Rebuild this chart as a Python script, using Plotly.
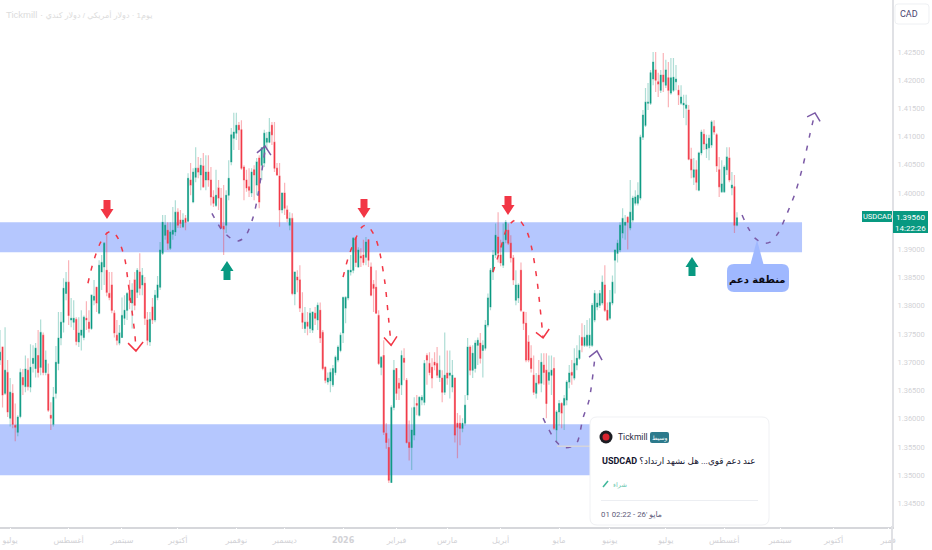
import plotly.graph_objects as go

W = 932
H = 550

open_prices = [
    1.3704, 1.3727, 1.3645, 1.3682, 1.3601, 1.3645, 1.3588, 1.3576, 1.3604, 1.3673, 1.3657, 1.3686, 1.3656, 1.3698, 1.3689, 1.3712, 1.3691, 1.3748, 1.3682, 1.3679,
    1.3606, 1.3590, 1.3645, 1.3698, 1.3743, 1.3771, 1.3822, 1.3842, 1.3775, 1.3771, 1.3776, 1.3736, 1.3748, 1.3744, 1.3778, 1.3771, 1.3760, 1.3810, 1.3833, 1.3787,
    1.3860, 1.3869, 1.3863, 1.3822, 1.3837, 1.3787, 1.3748, 1.3734, 1.3744, 1.3778, 1.3792, 1.3828, 1.3805, 1.3846, 1.3824, 1.3860, 1.3837, 1.3840, 1.3775, 1.3736,
    1.3798, 1.3775, 1.3815, 1.3833, 1.3893, 1.3925, 1.3934, 1.3902, 1.3927, 1.3931, 1.3966, 1.3952, 1.3940, 1.3955, 1.3950, 1.4023, 1.3984, 1.4028, 1.4044, 1.4032,
    1.4048, 1.4023, 1.4037, 1.4023, 1.3993, 1.3978, 1.4009, 1.3991, 1.3941, 1.3943, 1.3996, 1.4055, 1.4097, 1.4106, 1.4120, 1.4112, 1.4046, 1.4023, 1.4011, 1.4000,
    1.4041, 1.4014, 1.4062, 1.4049, 1.4053, 1.4090, 1.4090, 1.4120, 1.4090, 1.4044, 1.4030, 1.3970, 1.4000, 1.3970, 1.3943, 1.3955, 1.3821, 1.3851, 1.3846, 1.3787,
    1.3760, 1.3771, 1.3760, 1.3757, 1.3787, 1.3775, 1.3792, 1.3753, 1.3691, 1.3665, 1.3667, 1.3660, 1.3682, 1.3704, 1.3721, 1.3752, 1.3796, 1.3814, 1.3860, 1.3863,
    1.3920, 1.3869, 1.3888, 1.3890, 1.3886, 1.3917, 1.3869, 1.3838, 1.3833, 1.3783, 1.3691, 1.3712, 1.3574, 1.3549, 1.3487, 1.3620, 1.3689, 1.3663, 1.3660, 1.3707,
    1.3668, 1.3558, 1.3549, 1.3571, 1.3627, 1.3606, 1.3633, 1.3629, 1.3712, 1.3698, 1.3691, 1.3700, 1.3698, 1.3673, 1.3672, 1.3647, 1.3681, 1.3677, 1.3656, 1.3672,
    1.3592, 1.3592, 1.3583, 1.3592, 1.3642, 1.3727, 1.3686, 1.3689, 1.3730, 1.3734, 1.3721, 1.3725, 1.3766, 1.3798, 1.3860, 1.3890, 1.3922, 1.3890, 1.3872, 1.3917,
    1.3934, 1.3911, 1.3885, 1.3810, 1.3814, 1.3863, 1.3789, 1.3769, 1.3736, 1.3707, 1.3677, 1.3645, 1.3677, 1.3663, 1.3695, 1.3686, 1.3668, 1.3677, 1.3689, 1.3580,
    1.3612, 1.3627, 1.3624, 1.3633, 1.3665, 1.3682, 1.3672, 1.3695, 1.3707, 1.3744, 1.3730, 1.3730, 1.3730, 1.3730, 1.3775, 1.3798, 1.3801, 1.3805, 1.3837, 1.3792,
    1.3778, 1.3805, 1.3881, 1.3893, 1.3899, 1.3929, 1.3943, 1.3957, 1.3938, 1.3952, 1.3982, 1.3982, 1.3991, 1.4099, 1.4120, 1.4159, 1.4159, 1.4202, 1.4218, 1.4197,
    1.4182, 1.4209, 1.4191, 1.4204, 1.4177, 1.4182, 1.4197, 1.4182, 1.4159, 1.4156, 1.4150, 1.4147, 1.4060, 1.4028, 1.4041, 1.4005, 1.4071, 1.4104, 1.4078, 1.4080,
    1.4085, 1.4118, 1.4103, 1.4041, 1.4002, 1.4002, 1.4041, 1.4062, 1.4009, 1.4011, 1.3943,
]
high_prices = [
    1.3757, 1.3727, 1.3762, 1.3704, 1.3672, 1.3661, 1.3627, 1.3606, 1.3689, 1.3688, 1.3712, 1.3707, 1.3732, 1.3730, 1.3734, 1.3757, 1.3776, 1.3753, 1.3721, 1.3698,
    1.3629, 1.3656, 1.3729, 1.3789, 1.3789, 1.3849, 1.3860, 1.3881, 1.3814, 1.3810, 1.3780, 1.3780, 1.3792, 1.3783, 1.3808, 1.3792, 1.3819, 1.3846, 1.3833, 1.3881,
    1.3890, 1.3913, 1.3931, 1.3860, 1.3860, 1.3792, 1.3775, 1.3766, 1.3815, 1.3819, 1.3824, 1.3846, 1.3840, 1.3860, 1.3867, 1.3893, 1.3867, 1.3851, 1.3789, 1.3789,
    1.3814, 1.3828, 1.3853, 1.3913, 1.3961, 1.3961, 1.3948, 1.3948, 1.3975, 1.3987, 1.3973, 1.3970, 1.3964, 1.3961, 1.4035, 1.4053, 1.4044, 1.4081, 1.4064, 1.4062,
    1.4071, 1.4067, 1.4067, 1.4046, 1.4005, 1.4041, 1.4023, 1.4009, 1.4014, 1.4005, 1.4058, 1.4115, 1.4142, 1.4142, 1.4126, 1.4129, 1.4049, 1.4041, 1.4044, 1.4044,
    1.4049, 1.4062, 1.4067, 1.4081, 1.4112, 1.4108, 1.4133, 1.4126, 1.4126, 1.4053, 1.4053, 1.4000, 1.4018, 1.3978, 1.3966, 1.3964, 1.3860, 1.3863, 1.3872, 1.3824,
    1.3798, 1.3789, 1.3796, 1.3789, 1.3798, 1.3806, 1.3806, 1.3757, 1.3693, 1.3682, 1.3689, 1.3695, 1.3712, 1.3730, 1.3753, 1.3815, 1.3817, 1.3863, 1.3890, 1.3922,
    1.3922, 1.3904, 1.3902, 1.3917, 1.3922, 1.3917, 1.3877, 1.3846, 1.3863, 1.3792, 1.3711, 1.3739, 1.3592, 1.3565, 1.3624, 1.3704, 1.3689, 1.3672, 1.3721, 1.3725,
    1.3672, 1.3597, 1.3620, 1.3638, 1.3642, 1.3640, 1.3642, 1.3704, 1.3716, 1.3718, 1.3707, 1.3718, 1.3727, 1.3712, 1.3686, 1.3753, 1.3721, 1.3721, 1.3704, 1.3672,
    1.3610, 1.3606, 1.3601, 1.3642, 1.3743, 1.3730, 1.3730, 1.3739, 1.3744, 1.3752, 1.3739, 1.3775, 1.3822, 1.3867, 1.3899, 1.3946, 1.3966, 1.3917, 1.3946, 1.3952,
    1.3946, 1.3925, 1.3890, 1.3863, 1.3840, 1.3877, 1.3789, 1.3789, 1.3748, 1.3730, 1.3712, 1.3681, 1.3704, 1.3716, 1.3716, 1.3716, 1.3712, 1.3712, 1.3709, 1.3615,
    1.3633, 1.3629, 1.3642, 1.3668, 1.3695, 1.3704, 1.3725, 1.3730, 1.3748, 1.3769, 1.3766, 1.3775, 1.3778, 1.3805, 1.3828, 1.3822, 1.3828, 1.3854, 1.3872, 1.3806,
    1.3828, 1.3854, 1.3899, 1.3917, 1.3948, 1.3973, 1.3961, 1.3959, 1.4023, 1.3995, 1.4005, 1.4019, 1.4103, 1.4147, 1.4186, 1.4195, 1.4218, 1.4250, 1.4250, 1.4213,
    1.4218, 1.4248, 1.4236, 1.4232, 1.4239, 1.4239, 1.4227, 1.4191, 1.4191, 1.4174, 1.4174, 1.4156, 1.4080, 1.4062, 1.4058, 1.4073, 1.4112, 1.4113, 1.4103, 1.4103,
    1.4129, 1.4129, 1.4106, 1.4064, 1.4058, 1.4049, 1.4081, 1.4081, 1.4037, 1.4032, 1.3966,
]
low_prices = [
    1.3695, 1.3620, 1.3642, 1.3603, 1.3586, 1.3583, 1.3560, 1.3569, 1.3601, 1.3642, 1.3647, 1.3650, 1.3647, 1.3682, 1.3673, 1.3673, 1.3677, 1.3677, 1.3677, 1.3612,
    1.3580, 1.3586, 1.3636, 1.3686, 1.3730, 1.3753, 1.3810, 1.3766, 1.3762, 1.3757, 1.3730, 1.3727, 1.3721, 1.3739, 1.3757, 1.3753, 1.3757, 1.3801, 1.3789, 1.3785,
    1.3828, 1.3837, 1.3817, 1.3810, 1.3787, 1.3744, 1.3730, 1.3730, 1.3743, 1.3766, 1.3775, 1.3794, 1.3760, 1.3792, 1.3814, 1.3819, 1.3819, 1.3766, 1.3730, 1.3729,
    1.3768, 1.3771, 1.3810, 1.3828, 1.3890, 1.3917, 1.3899, 1.3899, 1.3917, 1.3924, 1.3938, 1.3938, 1.3938, 1.3934, 1.3948, 1.3996, 1.3982, 1.4019, 1.4026, 1.4005,
    1.4009, 1.4005, 1.4011, 1.3978, 1.3975, 1.3975, 1.3970, 1.3938, 1.3890, 1.3929, 1.3987, 1.4049, 1.4076, 1.4094, 1.4076, 1.4041, 1.3987, 1.4002, 1.3993, 1.3993,
    1.3987, 1.3996, 1.3973, 1.4023, 1.4046, 1.4076, 1.4088, 1.4085, 1.4037, 1.4030, 1.3940, 1.3964, 1.3961, 1.3948, 1.3934, 1.3819, 1.3801, 1.3824, 1.3789, 1.3759,
    1.3752, 1.3748, 1.3752, 1.3752, 1.3766, 1.3757, 1.3734, 1.3686, 1.3663, 1.3660, 1.3647, 1.3656, 1.3677, 1.3700, 1.3718, 1.3734, 1.3769, 1.3810, 1.3854, 1.3858,
    1.3869, 1.3867, 1.3869, 1.3872, 1.3872, 1.3869, 1.3817, 1.3789, 1.3787, 1.3695, 1.3677, 1.3571, 1.3547, 1.3486, 1.3486, 1.3615, 1.3633, 1.3633, 1.3642, 1.3668,
    1.3556, 1.3526, 1.3509, 1.3562, 1.3606, 1.3604, 1.3624, 1.3624, 1.3660, 1.3677, 1.3654, 1.3686, 1.3672, 1.3665, 1.3629, 1.3642, 1.3660, 1.3636, 1.3647, 1.3558,
    1.3530, 1.3553, 1.3576, 1.3588, 1.3633, 1.3677, 1.3672, 1.3682, 1.3695, 1.3698, 1.3673, 1.3721, 1.3762, 1.3792, 1.3846, 1.3885, 1.3877, 1.3870, 1.3867, 1.3911,
    1.3908, 1.3877, 1.3837, 1.3801, 1.3805, 1.3789, 1.3757, 1.3700, 1.3700, 1.3682, 1.3642, 1.3636, 1.3660, 1.3647, 1.3660, 1.3601, 1.3660, 1.3642, 1.3580, 1.3557,
    1.3588, 1.3583, 1.3580, 1.3624, 1.3654, 1.3660, 1.3668, 1.3686, 1.3704, 1.3718, 1.3727, 1.3727, 1.3725, 1.3727, 1.3771, 1.3792, 1.3796, 1.3801, 1.3789, 1.3773,
    1.3775, 1.3801, 1.3822, 1.3877, 1.3895, 1.3920, 1.3917, 1.3900, 1.3934, 1.3948, 1.3978, 1.3978, 1.3987, 1.4094, 1.4117, 1.4147, 1.4156, 1.4191, 1.4179, 1.4170,
    1.4177, 1.4179, 1.4186, 1.4152, 1.4174, 1.4179, 1.4182, 1.4156, 1.4156, 1.4133, 1.4120, 1.4058, 1.4026, 1.4014, 1.4005, 1.4003, 1.4067, 1.4076, 1.4062, 1.4058,
    1.4080, 1.4103, 1.4037, 1.3993, 1.4000, 1.4000, 1.4032, 1.4019, 1.3996, 1.3929, 1.3941,
]
close_prices = [
    1.3718, 1.3642, 1.3686, 1.3612, 1.3647, 1.3590, 1.3585, 1.3603, 1.3682, 1.3660, 1.3688, 1.3657, 1.3691, 1.3707, 1.3725, 1.3682, 1.3753, 1.3682, 1.3704, 1.3615,
    1.3601, 1.3638, 1.3700, 1.3743, 1.3771, 1.3831, 1.3842, 1.3783, 1.3778, 1.3778, 1.3737, 1.3752, 1.3757, 1.3780, 1.3775, 1.3760, 1.3819, 1.3817, 1.3805, 1.3872,
    1.3877, 1.3911, 1.3824, 1.3815, 1.3792, 1.3752, 1.3739, 1.3752, 1.3783, 1.3792, 1.3822, 1.3810, 1.3828, 1.3801, 1.3863, 1.3831, 1.3854, 1.3778, 1.3739, 1.3776,
    1.3775, 1.3819, 1.3837, 1.3899, 1.3948, 1.3943, 1.3911, 1.3931, 1.3934, 1.3966, 1.3943, 1.3946, 1.3952, 1.3948, 1.4026, 1.4014, 1.4037, 1.4044, 1.4037, 1.4049,
    1.4011, 1.4037, 1.4023, 1.3993, 1.3982, 1.3996, 1.3991, 1.3938, 1.3936, 1.3996, 1.4026, 1.4103, 1.4108, 1.4120, 1.4112, 1.4044, 1.4023, 1.4009, 1.4005, 1.4037,
    1.4032, 1.4055, 1.3984, 1.4080, 1.4106, 1.4097, 1.4108, 1.4103, 1.4044, 1.4032, 1.3970, 1.4000, 1.3973, 1.3955, 1.3955, 1.3822, 1.3860, 1.3846, 1.3796, 1.3771,
    1.3771, 1.3764, 1.3787, 1.3789, 1.3778, 1.3801, 1.3743, 1.3689, 1.3668, 1.3672, 1.3682, 1.3689, 1.3709, 1.3727, 1.3748, 1.3815, 1.3815, 1.3863, 1.3863, 1.3920,
    1.3877, 1.3899, 1.3885, 1.3877, 1.3913, 1.3881, 1.3819, 1.3831, 1.3787, 1.3698, 1.3709, 1.3576, 1.3558, 1.3491, 1.3620, 1.3686, 1.3645, 1.3654, 1.3712, 1.3700,
    1.3558, 1.3549, 1.3580, 1.3620, 1.3624, 1.3638, 1.3638, 1.3698, 1.3704, 1.3682, 1.3672, 1.3695, 1.3677, 1.3686, 1.3647, 1.3677, 1.3672, 1.3681, 1.3677, 1.3571,
    1.3585, 1.3583, 1.3592, 1.3624, 1.3727, 1.3686, 1.3716, 1.3734, 1.3739, 1.3707, 1.3730, 1.3766, 1.3814, 1.3863, 1.3890, 1.3925, 1.3893, 1.3876, 1.3913, 1.3948,
    1.3911, 1.3885, 1.3846, 1.3837, 1.3837, 1.3792, 1.3769, 1.3704, 1.3704, 1.3689, 1.3647, 1.3663, 1.3663, 1.3700, 1.3682, 1.3627, 1.3682, 1.3686, 1.3583, 1.3612,
    1.3627, 1.3610, 1.3636, 1.3665, 1.3681, 1.3677, 1.3698, 1.3707, 1.3721, 1.3730, 1.3744, 1.3748, 1.3748, 1.3801, 1.3822, 1.3805, 1.3822, 1.3842, 1.3792, 1.3775,
    1.3806, 1.3842, 1.3899, 1.3911, 1.3943, 1.3955, 1.3948, 1.3948, 1.3966, 1.3991, 1.3993, 1.3996, 1.4099, 1.4138, 1.4161, 1.4161, 1.4213, 1.4232, 1.4200, 1.4193,
    1.4209, 1.4197, 1.4218, 1.4182, 1.4204, 1.4205, 1.4202, 1.4174, 1.4170, 1.4159, 1.4156, 1.4060, 1.4041, 1.4041, 1.4019, 1.4071, 1.4108, 1.4087, 1.4087, 1.4097,
    1.4126, 1.4108, 1.4048, 1.4011, 1.4016, 1.4046, 1.4064, 1.4023, 1.4014, 1.3943, 1.3956,
]
bars = list(range(len(close_prices)))

# 1.395 sits under the price tag so it is left out
price_ticks = [1.425, 1.42, 1.415, 1.41, 1.405, 1.40, 1.39, 1.385, 1.38, 1.375, 1.37, 1.365, 1.36, 1.355, 1.35, 1.345]
month_ticks = [4, 27, 48, 70, 93, 112, 135, 156, 176, 197, 220, 240, 262, 285, 307, 328, 349.5]
month_labels = ["يوليو", "أغسطس", "سبتمبر", "أكتوبر", "نوفمبر", "ديسمبر", "<b>2026</b>", "فبراير", "مارس", "أبريل",
                "مايو", "يونيو", "يوليو", "أغسطس", "سبتمبر", "أكتوبر", "فمبر"]

# support zones: top price, bottom price, last bar
upper_zone = [1.3948, 1.3895, 315.6]
lower_zone = [1.3590, 1.3500, 302.0]

# hand drawn paths on the chart (bar index, price)
red1_x = [34.6, 36.6, 39.4, 42.1, 44.1, 46.4, 49.2, 50.4, 51.9, 53.1, 53.5]
red1_y = [1.3840, 1.3876, 1.3911, 1.3929, 1.3932, 1.3920, 1.3881, 1.3842, 1.3792, 1.3748, 1.3720]
red1_head_x = [50.4, 53.5, 56.3]
red1_head_y = [1.3734, 1.3720, 1.3736]
red2_x = [135.0, 137.0, 139.7, 142.5, 144.4, 147.6, 149.5, 151.5, 152.7, 153.9]
red2_y = [1.3851, 1.3885, 1.3917, 1.3940, 1.3943, 1.3922, 1.3893, 1.3840, 1.3787, 1.3730]
red2_head_x = [151.1, 153.9, 156.2]
red2_head_y = [1.3744, 1.3730, 1.3746]
red3_x = [194.0, 196.8, 199.5, 201.9, 203.9, 207.4, 209.4, 211.3, 212.5, 213.7]
red3_y = [1.3860, 1.3899, 1.3938, 1.3950, 1.3954, 1.3931, 1.3899, 1.3846, 1.3798, 1.3743]
red3_head_x = [210.9, 213.7, 216.1]
red3_head_y = [1.3753, 1.3743, 1.3759]
purple1_x = [83.4, 87.4, 91.7, 93.7, 96.4, 99.6, 101.5, 104.3]
purple1_y = [1.3964, 1.3934, 1.3917, 1.3915, 1.3922, 1.3957, 1.3996, 1.4076]
purple1_head_x = [101.1, 104.3, 106.6]
purple1_head_y = [1.4071, 1.4083, 1.4067]
purple2_x = [213.7, 218.4, 221.6, 225.1, 227.1, 229.4, 231.8, 234.2]
purple2_y = [1.3601, 1.3562, 1.3549, 1.3551, 1.3558, 1.3601, 1.3633, 1.3713]
purple2_head_x = [231.8, 234.9, 236.9]
purple2_head_y = [1.3709, 1.3720, 1.3704]
purple3_x = [292.0, 294.4, 297.1, 300.3, 303.0, 306.2, 308.9, 312.9, 316.0, 318.8, 320.7]
purple3_y = [1.3961, 1.3938, 1.3920, 1.3911, 1.3913, 1.3929, 1.3955, 1.4000, 1.4049, 1.4106, 1.4142]
purple3_head_x = [317.6, 320.7, 322.7]
purple3_head_y = [1.4135, 1.4142, 1.4127]

TEAL = "#089981"
RED = "#F23645"
PURPLE = "#7B5AA6"
ZONE = "#B5C7FE"
LATIN = "Roboto, DejaVu Sans"


def px(x, y):
    return x / W, 1 - y / H


def poly(points):
    parts = []
    for i, (x, y) in enumerate(points):
        a, b = px(x, y)
        parts.append(f"{'M' if i == 0 else 'L'}{a:.5f},{b:.5f}")
    return " ".join(parts) + " Z"


def down_arrow(cx, top, tip, color):
    neck = tip - 10
    return dict(type="path", xref="paper", yref="paper", layer="above", fillcolor=color, line=dict(width=0),
                path=poly([(cx - 3.5, top), (cx + 3.5, top), (cx + 3.5, neck), (cx + 6.5, neck), (cx, tip), (cx - 6.5, neck), (cx - 3.5, neck)]))


def up_arrow(cx, tip, bottom, color):
    neck = tip + 10
    return dict(type="path", xref="paper", yref="paper", layer="above", fillcolor=color, line=dict(width=0),
                path=poly([(cx, tip), (cx + 6.5, neck), (cx + 3.5, neck), (cx + 3.5, bottom), (cx - 3.5, bottom), (cx - 3.5, neck), (cx - 6.5, neck)]))


def rounded(x0, y0, x1, y1, r, fill, line=None):
    a0, b0 = px(x0, y0)
    a1, b1 = px(x1, y1)
    rx, ry = r / W, r / H
    path = (f"M{a0 + rx:.5f},{b0:.5f} L{a1 - rx:.5f},{b0:.5f} Q{a1:.5f},{b0:.5f} {a1:.5f},{b0 - ry:.5f} "
            f"L{a1:.5f},{b1 + ry:.5f} Q{a1:.5f},{b1:.5f} {a1 - rx:.5f},{b1:.5f} "
            f"L{a0 + rx:.5f},{b1:.5f} Q{a0:.5f},{b1:.5f} {a0:.5f},{b1 + ry:.5f} "
            f"L{a0:.5f},{b0 - ry:.5f} Q{a0:.5f},{b0:.5f} {a0 + rx:.5f},{b0:.5f} Z")
    return dict(type="path", xref="paper", yref="paper", layer="above", path=path, fillcolor=fill,
                line=dict(width=1 if line else 0, color=line or fill))


def rect(x0, y0, x1, y1, fill):
    a0, b0 = px(x0, y0)
    a1, b1 = px(x1, y1)
    return dict(type="rect", xref="paper", yref="paper", layer="above", x0=a0, x1=a1, y0=b0, y1=b1,
                fillcolor=fill, line=dict(width=0))


def circle(cx, cy, rad, fill):
    a0, b0 = px(cx - rad, cy + rad)
    a1, b1 = px(cx + rad, cy - rad)
    return dict(type="circle", xref="paper", yref="paper", layer="above", x0=a0, x1=a1, y0=b0, y1=b1,
                fillcolor=fill, line=dict(width=0))


def label(x, y, text, size, color, anchor="left", family=LATIN):
    a, b = px(x, y)
    return dict(x=a, y=b, xref="paper", yref="paper", text=text, showarrow=False, xanchor=anchor, yanchor="middle",
                font=dict(size=size, color=color, family=family), borderpad=0)


fig = go.Figure()

# pale wicks first, saturated bodies on top
fig.add_trace(go.Candlestick(
    x=bars, open=open_prices, high=high_prices, low=low_prices, close=close_prices,
    increasing=dict(line=dict(color="rgba(8,153,129,0.33)", width=1.2), fillcolor="rgba(8,153,129,0.33)"),
    decreasing=dict(line=dict(color="rgba(242,54,69,0.38)", width=1.2), fillcolor="rgba(242,54,69,0.38)"),
    whiskerwidth=0, showlegend=False, hoverinfo="skip",
))
fig.add_trace(go.Candlestick(
    x=bars, open=open_prices, close=close_prices,
    high=[max(o, c) for o, c in zip(open_prices, close_prices)],
    low=[min(o, c) for o, c in zip(open_prices, close_prices)],
    increasing=dict(line=dict(color=TEAL, width=0.3), fillcolor=TEAL),
    decreasing=dict(line=dict(color=RED, width=0.3), fillcolor=RED),
    whiskerwidth=0, showlegend=False, hoverinfo="skip",
))

paths = [
    (red1_x, red1_y, red1_head_x, red1_head_y, RED),
    (red2_x, red2_y, red2_head_x, red2_head_y, RED),
    (red3_x, red3_y, red3_head_x, red3_head_y, RED),
    (purple1_x, purple1_y, purple1_head_x, purple1_head_y, PURPLE),
    (purple2_x, purple2_y, purple2_head_x, purple2_head_y, PURPLE),
    (purple3_x, purple3_y, purple3_head_x, purple3_head_y, PURPLE),
]
for xs, ys, head_x, head_y, color in paths:
    fig.add_trace(go.Scatter(x=xs, y=ys, mode="lines", showlegend=False, hoverinfo="skip",
                             line=dict(color=color, width=1.5, dash="5px,8px", shape="spline", smoothing=0.8)))
    fig.add_trace(go.Scatter(x=head_x, y=head_y, mode="lines", showlegend=False, hoverinfo="skip",
                             line=dict(color=color, width=1.5)))

shapes = [
    dict(type="rect", xref="x", yref="y", layer="below", x0=0, x1=upper_zone[2], y0=upper_zone[1], y1=upper_zone[0],
         fillcolor=ZONE, line=dict(width=0)),
    dict(type="rect", xref="x", yref="y", layer="below", x0=0, x1=lower_zone[2], y0=lower_zone[1], y1=lower_zone[0],
         fillcolor=ZONE, line=dict(width=0)),
    dict(type="line", xref="x", yref="y", layer="above", x0=219.2, x1=232.2, y0=1.3551, y1=1.3551,
         line=dict(color="#d4d4dc", width=1.5)),
    down_arrow(107, 200, 219, RED),
    down_arrow(364, 199, 218, RED),
    down_arrow(508, 196, 215, RED),
    up_arrow(227, 261, 280, TEAL),
    up_arrow(692, 257, 276, TEAL),
    # callout
    dict(type="path", xref="paper", yref="paper", layer="above", fillcolor="#9FB8FF", line=dict(width=0),
         path=poly([(750, 266), (757, 240), (764, 266)])),
    rounded(727, 264, 789, 292, 7, "#9FB8FF"),
    # idea card
    rounded(590, 417, 769, 525, 7, "white", "#f0f1f4"),
    circle(606, 437, 6.5, "#1c1c22"),
    circle(606, 437, 3.5, "#d8232f"),
    rounded(650, 432, 669, 443, 2, "#2c7a8c"),
    rect(601, 500, 758, 501, "#eceef2"),
    dict(type="line", xref="paper", yref="paper", layer="above", x0=603 / W, x1=608 / W, y0=1 - 487 / H, y1=1 - 481 / H,
         line=dict(color="#3fb79a", width=1.5)),
    # axis corner and price tags
    dict(type="line", xref="paper", yref="paper", layer="above", x0=892 / W, x1=892 / W, y0=0, y1=1 - 526 / H,
         line=dict(color="#e0e1e5", width=2)),
    rect(862, 211, 892, 222, TEAL),
    rect(893, 211, 928, 233, TEAL),
    rounded(895, 4, 929, 24, 3, "white", "#eef0f3"),
]

annotations = [
    label(5, 15, "Tickmill · <span style='font-size:8px'>يوم1 · دولار أمريكي / دولار كندي</span>", 9.5, "#dcdcdc",
          family="Liberation Sans, DejaVu Sans"),
    label(909, 14, "CAD", 9, "#4a4570", "center"),
    label(877, 216.5, "USDCAD", 7.5, "white", "center"),
    label(910.5, 217, "1.39560", 8, "white", "center"),
    label(910.5, 228, "14:22:26", 8, "white", "center"),
    label(757, 279, "<b>منطقة دعم</b>", 10, "#0b0b14", "center", "DejaVu Sans"),
    label(617, 437, "Tickmill", 8.5, "#2c2c44"),
    label(659.5, 437.5, "وسيط", 6, "white", "center", "DejaVu Sans"),
    label(601, 461, "<b>USDCAD</b> <span style='font-size:8.8px'>عند دعم قوي... هل نشهد ارتداد؟</span>", 9, "#14142e"),
    label(612, 485, "شراء", 6.5, "#6cc7b0", family="DejaVu Sans"),
    label(600, 514, "01 02:22 - 26' مايو", 7.8, "#5d5a78"),
]

fig.update_layout(
    width=W, height=H,
    template="none",
    margin=dict(l=0, r=0, t=0, b=0),
    paper_bgcolor="white",
    plot_bgcolor="white",
    showlegend=False,
    boxgap=0.45,
    shapes=shapes,
    annotations=annotations,
    font=dict(family=LATIN),
    xaxis=dict(
        domain=[0, 892 / W], range=[0, 351.0], automargin=False, rangeslider=dict(visible=False),
        showgrid=False, zeroline=False, showline=True, linecolor="#d6d7db", linewidth=1.5,
        tickmode="array", tickvals=month_ticks, ticktext=month_labels, ticks="outside", ticklen=5,
        tickcolor="white", tickfont=dict(size=8, color="#d2d2d6", family="DejaVu Sans"),
    ),
    yaxis=dict(
        domain=[(H - 526.5) / H, 1], range=[1.3409, 1.4342], side="right", automargin=False,
        showgrid=False, zeroline=False, showline=True, linecolor="#e0e1e5", linewidth=2,
        tickmode="array", tickvals=price_ticks, tickformat=".5f", ticks="outside", ticklen=2,
        tickcolor="white", tickfont=dict(size=7.5, color="#d2d2d6"),
    ),
)

fig.write_html("out.html", config={"displayModeBar": False}, post_script="document.body.style.margin='0';")
